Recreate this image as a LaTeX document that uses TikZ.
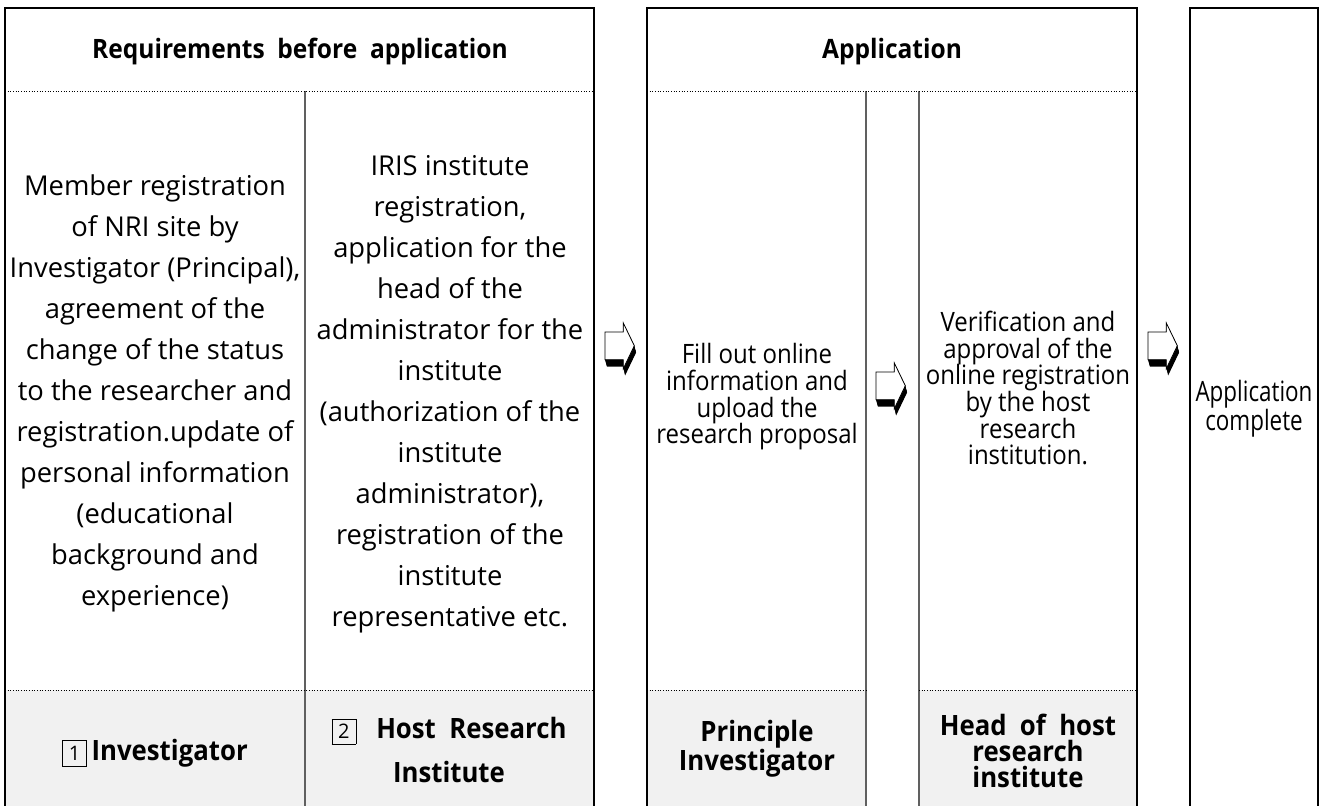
\documentclass[tikz,border=0pt]{standalone}
\usepackage{fontspec}
\setmainfont{Open Sans}
\newfontfamily\bodyf{Open Sans}
\newfontfamily\headf[FakeStretch=0.92]{Open Sans}
\newfontfamily\condf[FakeStretch=0.9]{Open Sans}
\newfontfamily\vcondf[FakeStretch=0.8]{Open Sans}
\newcommand\boxnum[1]{{\fboxsep=0pt\fboxrule=0.5pt\fbox{\makebox[17.5pt]{\rule[-4pt]{0pt}{18.5pt}\bodyf\mdseries\fontsize{15}{15}\selectfont #1}}}}
\newcommand\blockarrow[2]{%
  \begin{scope}[shift={(#1,#2)}]
    \foreach \t in {0,0.1,...,1.01}{
      \fill[black,shift={(1.8*\t,6.8*\t)}] (0,9) -- (18.3,9) -- (18.3,0) -- (29.3,22.7) -- (18.3,45.7) -- (18.3,36.7) -- (0,36.7) -- cycle;
    }
    \filldraw[fill=white,draw=black,line width=0.6pt] (0,9) -- (18.3,9) -- (18.3,0) -- (29.3,22.7) -- (18.3,45.7) -- (18.3,36.7) -- (0,36.7) -- cycle;
  \end{scope}}
\definecolor{cellgray}{HTML}{F1F1F1}
\definecolor{linegray}{HTML}{606060}
\tikzset{
  outer/.style={draw=black,line width=1pt},
  inner/.style={draw=linegray,line width=1.1pt},
  dotline/.style={draw=black,line width=0.6pt,dash pattern=on 0.75pt off 1.25pt},
  head/.style={font=\headf\bfseries\fontsize{20}{24}\selectfont,inner sep=0pt},
  body/.style={font=\bodyf\fontsize{20.5}{30.75}\selectfont,align=center,inner sep=0pt},
  small/.style={font=\condf\fontsize{20}{20}\selectfont,align=center,inner sep=0pt},
  vsmall/.style={font=\vcondf\fontsize{21}{19.5}\selectfont,align=center,inner sep=0pt},
  foot/.style={font=\headf\bfseries\fontsize{21}{33}\selectfont,align=center,inner sep=0pt},
  foottight/.style={font=\headf\bfseries\fontsize{21}{19.5}\selectfont,align=center,inner sep=0pt}
}
\begin{document}
\begin{tikzpicture}[x=0.75pt,y=-0.75pt]
\useasboundingbox (0,0) rectangle (1322,806);
% gray cells
\fill[cellgray] (5,690) rectangle (594,806);
\fill[cellgray] (647,690) rectangle (866,806);
\fill[cellgray] (919,690) rectangle (1137,806);
% table 1
\draw[inner] (305,91) -- (305,806);
\draw[dotline] (5,91) -- (594,91);
\draw[dotline] (5,690) -- (594,690);
\draw[outer] (5,806) -- (5,8) -- (594,8) -- (594,806);
% table 2
\draw[inner] (866,91) -- (866,806);
\draw[inner] (919,91) -- (919,806);
\draw[dotline] (647,91) -- (1137,91);
\draw[dotline] (647,690) -- (866,690);
\draw[dotline] (919,690) -- (1137,690);
\draw[outer] (647,806) -- (647,8) -- (1137,8) -- (1137,806);
% table 3
\draw[outer] (1190,806) -- (1190,8) -- (1318,8) -- (1318,806);
% headers
\node[head] (h1) at (300,52) {Requirements\ \ before\ \ application};
\node[head] (h2) at (892,52) {Application};
% body texts
\node[body] (b1) at (155,393) {Member registration\\of NRI site by\\Investigator (Principal),\\agreement of the\\change of the status\\to the researcher and\\registration.update of\\personal information\\(educational\\background and\\experience)};
\node[body] (b2) at (450,394) {IRIS institute\\registration,\\application for the\\head of the\\administrator for the\\institute\\(authorization of the\\institute\\administrator),\\registration of the\\institute\\representative etc.};
\node[small] (b3) at (757,397) {Fill out online\\information and\\upload the\\research proposal};
\node[small] (b4) at (1028,388) {Verification and\\approval of the\\online registration\\by the host\\research\\institution.};
\node[vsmall] (b5) at (1254,409) {Application\\complete};
% footers
\node[foot] (f1) at (155,753) {\boxnum{1}\,Investigator};
\node[foot] (f2) at (449,750) {\boxnum{2}\ \ \ Host\ \ Research\\Institute};
\node[foottight] (f3) at (757,749) {Principle\\Investigator};
\node[foottight] (f4) at (1028,751) {Head\ \ of\ \ host\\research\\institute};
% arrows
\blockarrow{605}{323}
\blockarrow{876}{363}
\blockarrow{1148}{323}
\end{tikzpicture}
\end{document}
